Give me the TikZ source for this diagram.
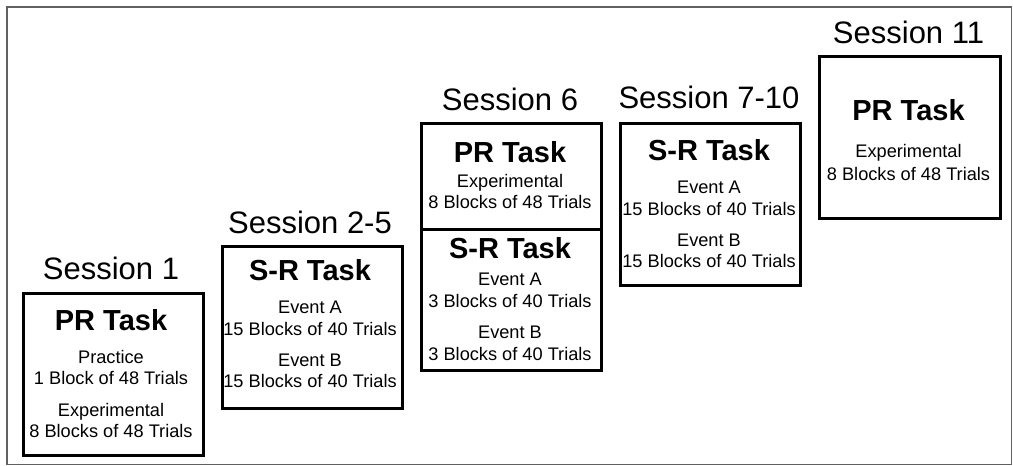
\documentclass[tikz,border=0pt]{standalone}
\usepackage{fontspec}
\setmainfont{Liberation Sans}
\begin{document}
\begin{tikzpicture}[x=1pt,y=-1pt,
  box/.style={draw=black, line width=2.5pt, rectangle, inner sep=0pt, anchor=north west},
  sess/.style={anchor=base, inner sep=0pt, font=\fontsize{31}{37}\selectfont},
  task/.style={anchor=base, inner sep=0pt, font=\fontsize{29}{34}\selectfont\bfseries},
  body/.style={anchor=base, inner sep=0pt, font=\fontsize{18.2}{21}\selectfont}]
\useasboundingbox (0,0) rectangle (1013,466);
\draw[line width=1.5pt, draw=black!62] (7,7) rectangle (1011.5,464.5);
% boxes
\node[box, minimum width=180pt, minimum height=162pt] (b1) at (22,292) {};
\node[box, minimum width=180pt, minimum height=162pt] (b2) at (221,245) {};
\node[box, minimum width=180pt, minimum height=106pt] (b3a) at (420,122) {};
\node[box, minimum width=180pt, minimum height=141pt] (b3b) at (420,228) {};
\node[box, minimum width=180pt, minimum height=162pt] (b4) at (619,122) {};
\node[box, minimum width=181pt, minimum height=162pt] (b5) at (818,55) {};
% session 1
\node[sess] (s1) at (111,279) {Session 1};
\node[task] (t1) at (111,330) {PR Task};
\node[body] (l11) at (111,363) {Practice};
\node[body] (l12) at (111,384) {1 Block of 48 Trials};
\node[body] (l13) at (111,416) {Experimental};
\node[body] (l14) at (111,437) {8 Blocks of 48 Trials};
% session 2-5
\node[sess] (s2) at (310,233) {Session 2-5};
\node[task] (t2) at (310,280) {S-R Task};
\node[body] (l21) at (310,313) {Event A};
\node[body] (l22) at (310,335) {15 Blocks of 40 Trials};
\node[body] (l23) at (310,366) {Event B};
\node[body] (l24) at (310,387) {15 Blocks of 40 Trials};
% session 6
\node[sess] (s3) at (510,110) {Session 6};
\node[task] (t3a) at (510,162) {PR Task};
\node[body] (l31) at (510,187) {Experimental};
\node[body] (l32) at (510,208) {8 Blocks of 48 Trials};
\node[task] (t3b) at (510,258) {S-R Task};
\node[body] (l33) at (510,285) {Event A};
\node[body] (l34) at (510,307) {3 Blocks of 40 Trials};
\node[body] (l35) at (510,338) {Event B};
\node[body] (l36) at (510,360) {3 Blocks of 40 Trials};
% session 7-10
\node[sess] (s4) at (709,108) {Session 7-10};
\node[task] (t4) at (709,160) {S-R Task};
\node[body] (l41) at (709,193) {Event A};
\node[body] (l42) at (709,215) {15 Blocks of 40 Trials};
\node[body] (l43) at (709,246) {Event B};
\node[body] (l44) at (709,267) {15 Blocks of 40 Trials};
% session 11
\node[sess] (s5) at (908.5,43) {Session 11};
\node[task] (t5) at (908.5,120) {PR Task};
\node[body] (l51) at (908.5,157) {Experimental};
\node[body] (l52) at (908.5,180) {8 Blocks of 48 Trials};
\end{tikzpicture}
\end{document}
